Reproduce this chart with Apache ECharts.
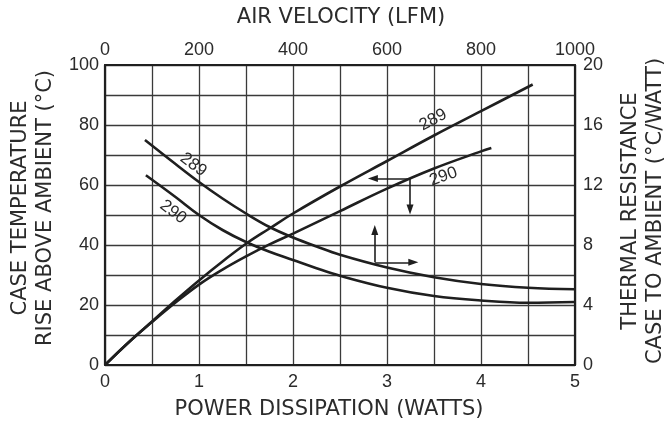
<!DOCTYPE html>
<html lang="en">
<head>
    <meta charset="utf-8">
    <script src="https://cdn.jsdelivr.net/npm/echarts@6.0.0/dist/echarts.min.js"></script>
    <style>
        html, body { margin: 0; padding: 0; background: #fff; }
        #main { width: 670px; height: 422px; }
    </style>
</head>
<body>
<div id="main"></div>
<script>
    // case temperature rise vs power dissipation (bottom / left axes)
    var rise289 = [[0, 0], [0.25, 7.5], [0.5, 14.5], [0.75, 21.5], [1, 28.2], [1.25, 34.5], [1.5, 40.4],
        [1.75, 45.5], [2, 50.5], [2.5, 59.5], [3, 68], [3.5, 76.5], [4, 84.6], [4.55, 93.5]];
    var rise290 = [[0, 0], [0.25, 7.5], [0.5, 14.3], [0.75, 20.8], [1, 26.8], [1.25, 31.8], [1.5, 36.2],
        [1.75, 40.2], [2, 43.8], [2.5, 51.3], [3, 58.8], [3.5, 65.5], [4, 71.2], [4.11, 72.3]];
    // thermal resistance vs air velocity (top / right axes)
    var res289 = [[85, 15.0], [150, 13.4], [200, 12.2], [250, 11.1], [300, 10.1], [350, 9.2], [400, 8.5],
        [450, 7.9], [500, 7.35], [600, 6.5], [700, 5.85], [800, 5.4], [900, 5.15], [1000, 5.05]];
    var res290 = [[87, 12.65], [150, 11.2], [200, 10.0], [250, 9.0], [300, 8.2], [350, 7.55], [400, 7.0],
        [450, 6.45], [500, 5.95], [600, 5.15], [700, 4.6], [800, 4.3], [900, 4.15], [1000, 4.2]];

    // arrows telling which axes each curve family uses
    var arrowRise = [[3.245, 62.2], [2.85, 62.2], [3.245, 51.8]];
    var arrowRes = [[574, 6.85], [574, 9.0], [656, 6.85]];

    // curve number labels: [axis set, x, y, rotation deg, text]
    var curveLabels = [
        ['res', 188, 13.35, -37, '289'],
        ['res', 145, 10.2, -37, '290'],
        ['rise', 3.49, 81.7, 28, '289'],
        ['rise', 3.6, 62.8, 20, '290']
    ];

    var ink = '#1f1f1f';
    var txt = '#2b2b2b';
    var numFont = '"Liberation Sans Narrow", "Liberation Sans", Arial, sans-serif';
    var capFont = '"DejaVu Sans", "Liberation Sans", sans-serif';

    var myChart = echarts.init(document.getElementById('main'));

    function lineSeries(name, data, xi, yi, marks) {
        return {
            name: name,
            type: 'line',
            xAxisIndex: xi,
            yAxisIndex: yi,
            data: data,
            smooth: 0.4,
            showSymbol: false,
            silent: true,
            lineStyle: { color: ink, width: 2.6 },
            markLine: marks
        };
    }

    function arrows(a) {
        return {
            silent: true,
            symbol: ['none', 'triangle'],
            symbolSize: [7, 10],
            label: { show: false },
            lineStyle: { color: ink, width: 1.6, type: 'solid' },
            data: [
                [{ coord: a[0] }, { coord: a[1] }],
                [{ coord: a[0] }, { coord: a[2] }]
            ]
        };
    }

    var gridLine = { show: true, lineStyle: { color: '#3a3a3a', width: 1.3 } };
    var plain = function (v) { return String(v); };

    myChart.setOption({
        animation: false,
        backgroundColor: '#fff',
        grid: { left: 105, right: 95, top: 65, bottom: 57 },
        xAxis: [{
            type: 'value', position: 'bottom', min: 0, max: 5, interval: 1,
            axisLine: { show: true, onZero: false, lineStyle: { color: ink, width: 2.2 } },
            axisTick: { show: false },
            splitLine: gridLine,
            minorTick: { show: false, splitNumber: 2 },
            minorSplitLine: gridLine,
            axisLabel: { color: txt, fontSize: 18, fontFamily: numFont, margin: 8, formatter: plain }
        }, {
            type: 'value', position: 'top', min: 0, max: 1000, interval: 200,
            axisLine: { show: true, onZero: false, lineStyle: { color: ink, width: 2.2 } },
            axisTick: { show: false },
            splitLine: { show: false },
            axisLabel: { color: txt, fontSize: 18, fontFamily: numFont, margin: 6, formatter: plain }
        }],
        yAxis: [{
            type: 'value', position: 'left', min: 0, max: 100, interval: 20,
            axisLine: { show: true, onZero: false, lineStyle: { color: ink, width: 2.2 } },
            axisTick: { show: false },
            splitLine: gridLine,
            minorTick: { show: false, splitNumber: 2 },
            minorSplitLine: gridLine,
            axisLabel: { color: txt, fontSize: 18, fontFamily: numFont, margin: 6, formatter: plain }
        }, {
            type: 'value', position: 'right', min: 0, max: 20, interval: 4,
            axisLine: { show: true, onZero: false, lineStyle: { color: ink, width: 2.2 } },
            axisTick: { show: false },
            splitLine: { show: false },
            axisLabel: { color: txt, fontSize: 18, fontFamily: numFont, margin: 8, formatter: plain }
        }],
        series: [
            lineSeries('289 rise', rise289, 0, 0),
            lineSeries('290 rise', rise290, 0, 0, arrows(arrowRise)),
            lineSeries('289 resistance', res289, 1, 1, arrows(arrowRes)),
            lineSeries('290 resistance', res290, 1, 1)
        ]
    });

    // titles and curve numbers
    var gfx = [];
    function title(x, y, rot, text) {
        gfx.push({
            type: 'text', x: x, y: y, rotation: rot, silent: true,
            style: { text: text, fill: txt, font: '21px ' + capFont, align: 'center', verticalAlign: 'middle' }
        });
    }
    title(341, 18, 0, 'AIR VELOCITY (LFM)');
    title(329, 410, 0, 'POWER DISSIPATION (WATTS)');
    title(21, 208, Math.PI / 2, 'CASE TEMPERATURE');
    title(46, 208, Math.PI / 2, 'RISE ABOVE AMBIENT (°C)');
    title(631, 211, Math.PI / 2, 'THERMAL RESISTANCE');
    title(656, 211, Math.PI / 2, 'CASE TO AMBIENT (°C/WATT)');

    curveLabels.forEach(function (c) {
        var idx = c[0] === 'rise' ? 0 : 1;
        var p = myChart.convertToPixel({ xAxisIndex: idx, yAxisIndex: idx }, [c[1], c[2]]);
        gfx.push({
            type: 'text', x: p[0], y: p[1], rotation: c[3] * Math.PI / 180, silent: true,
            style: { text: c[4], fill: txt, font: '17px ' + numFont, align: 'center', verticalAlign: 'middle' }
        });
    });
    myChart.setOption({ graphic: gfx });
</script>
</body>
</html>
